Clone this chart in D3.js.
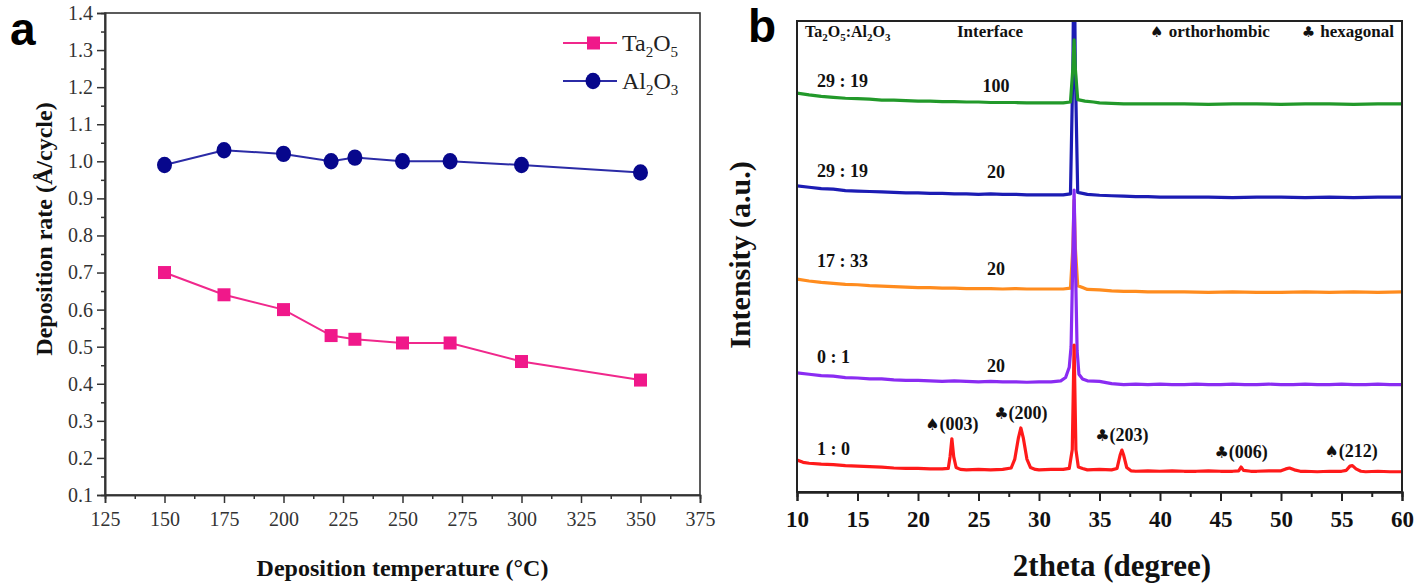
<!DOCTYPE html>
<html><head><meta charset="utf-8">
<script src="https://cdn.jsdelivr.net/npm/d3@7"></script>
<style>
body{margin:0;background:#fff;}
svg{display:block;font-family:"Liberation Serif","Times New Roman",serif;}
</style></head>
<body><svg id="c" width="1418" height="587"></svg>
<script>
// ---------- Panel a data ----------
const temps = [150,175,200,220,230,250,270,300,350];
const ta2o5 = [0.70,0.64,0.60,0.53,0.52,0.51,0.51,0.46,0.41];
const al2o3 = [0.99,1.03,1.02,1.00,1.01,1.00,1.00,0.99,0.97];
const aXTicks = [125,150,175,200,225,250,275,300,325,350,375];
const aYTicks = [0.1,0.2,0.3,0.4,0.5,0.6,0.7,0.8,0.9,1.0,1.1,1.2,1.3,1.4];

// ---------- Panel b data (2theta, stacked intensity a.u.) ----------
const bXTicks = [10,15,20,25,30,35,40,45,50,55,60];
const trace_1_0 = [[10,6.8],[10.5,6.3],[11,6.1],[12,5.9],[13,5.8],[14,5.6],[15,5.5],[16,5.4],[17,5.3],[18,5.1],[19,5.0],[20,5.0],[21,4.9],[22,4.9],[22.5,5.0],[22.65,7.5],[22.8,11.3],[22.95,7.5],[23.15,5.2],[23.5,4.8],[24,4.7],[25,4.8],[26,4.7],[27,4.8],[27.7,5.1],[28.0,7.0],[28.3,11.5],[28.5,13.6],[28.7,11.5],[29.0,7.0],[29.3,5.2],[29.7,4.8],[30,4.7],[31,4.8],[32,4.8],[32.5,5.0],[32.75,9],[32.9,31.2],[33.05,9],[33.25,5.3],[33.6,5.0],[34,4.7],[35,4.8],[36,4.7],[36.45,5.0],[36.7,7.8],[36.85,8.9],[37.0,7.8],[37.25,5.2],[37.6,4.5],[38,4.4],[39,4.5],[40,4.4],[41,4.5],[42,4.4],[43,4.4],[44,4.5],[45,4.4],[46,4.4],[46.5,4.5],[46.7,5.3],[46.9,4.6],[47.5,4.4],[48,4.4],[49,4.5],[50,4.5],[50.4,4.9],[50.7,5.1],[51.1,4.7],[51.6,4.4],[52,4.4],[53,4.3],[54,4.4],[55,4.4],[55.4,4.6],[55.7,5.5],[55.9,5.6],[56.2,4.9],[56.6,4.4],[57,4.3],[58,4.4],[59,4.3],[60,4.3]];
const trace_0_1 = [[10,25.3],[11,25.0],[12,24.7],[13,24.6],[14,24.3],[15,24.2],[16,24.0],[17,24.0],[18,23.8],[19,23.7],[20,23.7],[21,23.6],[22,23.5],[23,23.6],[24,23.5],[25,23.4],[26,23.5],[27,23.4],[28,23.4],[29,23.3],[30,23.4],[31,23.4],[31.8,23.6],[32.2,24.3],[32.5,26.5],[32.65,30.8],[32.8,50],[32.9,64.1],[33.0,50],[33.15,30],[33.3,25.0],[33.6,24.0],[34,23.6],[35,23.5],[36,23.0],[37,22.8],[38,22.9],[39,22.8],[40,22.9],[41,22.8],[42,22.8],[43,22.9],[44,22.8],[45,22.8],[46,22.9],[47,22.8],[48,22.8],[49,22.9],[50,22.8],[51,22.8],[52,22.9],[53,22.8],[54,22.8],[55,22.9],[56,22.8],[57,22.8],[58,22.9],[59,22.8],[60,22.8]];
const trace_17_33 = [[10,45.2],[11,44.8],[12,44.5],[13,44.3],[14,44.1],[15,44.0],[16,43.8],[17,43.7],[18,43.6],[19,43.5],[20,43.4],[21,43.4],[22,43.3],[23,43.3],[24,43.2],[25,43.2],[26,43.2],[27,43.1],[28,43.2],[29,43.1],[30,43.1],[31,43.1],[32,43.1],[32.6,43.3],[32.8,52],[32.9,62],[33.0,52],[33.2,43.8],[33.6,43.4],[34,43.0],[35,42.9],[36,42.7],[37,42.6],[38,42.6],[39,42.5],[40,42.5],[42,42.5],[44,42.4],[46,42.5],[48,42.4],[50,42.4],[52,42.5],[54,42.4],[56,42.5],[58,42.4],[60,42.5]];
const trace_29_19_20 = [[10,65.0],[11,64.7],[12,64.4],[13,64.3],[14,64.0],[15,63.9],[16,63.8],[17,63.7],[18,63.6],[19,63.5],[20,63.5],[21,63.4],[22,63.4],[23,63.3],[24,63.3],[25,63.2],[26,63.3],[27,63.2],[28,63.2],[29,63.1],[30,63.1],[31,63.1],[32,63.1],[32.6,63.3],[32.8,90],[32.9,120],[33.0,90],[33.2,63.6],[33.6,63.4],[34,63.2],[35,63.0],[36,62.9],[37,62.8],[38,62.7],[39,62.7],[40,62.6],[42,62.6],[44,62.6],[46,62.5],[48,62.6],[50,62.6],[52,62.5],[54,62.6],[56,62.5],[58,62.6],[60,62.6]];
const trace_29_19_100 = [[10,84.7],[11,84.3],[12,84.0],[13,83.8],[14,83.6],[15,83.5],[16,83.4],[17,83.2],[18,83.2],[19,83.1],[20,83.0],[21,83.0],[22,82.9],[23,82.9],[24,82.8],[25,82.8],[26,82.7],[27,82.7],[28,82.7],[29,82.6],[30,82.6],[31,82.6],[32,82.6],[32.6,82.8],[32.8,90],[32.9,96],[33.0,90],[33.2,83.3],[33.8,83.0],[34.5,82.8],[35,82.6],[36,82.5],[37,82.4],[38,82.4],[39,82.4],[40,82.4],[42,82.4],[44,82.3],[46,82.4],[48,82.4],[50,82.3],[52,82.4],[54,82.4],[56,82.3],[58,82.4],[60,82.4]];

const bTraces = [
  {name:"29:19 / 20", data:trace_29_19_20, color:"#1c1cb4", ratio:"29 : 19", iface:"20", ry:177, iy:178},
  {name:"29:19 / 100", data:trace_29_19_100, color:"#22992a", ratio:"29 : 19", iface:"100", ry:87, iy:92},
  {name:"17:33 / 20", data:trace_17_33, color:"#ff8c1e", ratio:"17 : 33", iface:"20", ry:267, iy:275},
  {name:"0:1 / 20", data:trace_0_1, color:"#8a2cf2", ratio:"0 : 1", iface:"20", ry:363, iy:372},
  {name:"1:0", data:trace_1_0, color:"#ff1a1a", ratio:"1 : 0", iface:null, ry:455, iy:0}
];
const peakLabels = [
  {sym:"\u2660", hkl:"(003)", x:22.8, y:11.3},
  {sym:"\u2663", hkl:"(200)", x:28.5, y:13.6},
  {sym:"\u2663", hkl:"(203)", x:36.85, y:8.9},
  {sym:"\u2663", hkl:"(006)", x:46.7, y:5.3},
  {sym:"\u2660", hkl:"(212)", x:55.8, y:5.6}
];

const svg = d3.select("#c");
const axisCol = "#333";

// ================= Panel a =================
const A = {l:105, r:700, t:13, b:495};
const ax = d3.scaleLinear().domain([125,375]).range([A.l,A.r]);
const ay = d3.scaleLinear().domain([0.1,1.4]).range([A.b,A.t]);
const ga = svg.append("g");

ga.append("rect").attr("x",A.l).attr("y",A.t).attr("width",A.r-A.l).attr("height",A.b-A.t)
  .attr("fill","none").attr("stroke",axisCol).attr("stroke-width",1.6);

const axA = ga.append("g").attr("transform",`translate(0,${A.b})`)
  .call(d3.axisBottom(ax).tickValues(aXTicks).tickSize(8).tickPadding(9).tickFormat(d3.format("d")));
const axAm = ga.append("g").attr("transform",`translate(0,${A.b})`)
  .call(d3.axisBottom(ax).tickValues(d3.range(137.5,375,25)).tickSize(4).tickFormat(""));
const ayA = ga.append("g").attr("transform",`translate(${A.l},0)`)
  .call(d3.axisLeft(ay).tickValues(aYTicks).tickSize(8).tickPadding(4).tickFormat(d3.format(".1f")));
const ayAm = ga.append("g").attr("transform",`translate(${A.l},0)`)
  .call(d3.axisLeft(ay).tickValues(d3.range(0.15,1.4,0.1)).tickSize(4).tickFormat(""));
[axA,axAm,ayA,ayAm].forEach(g=>{
  g.select(".domain").attr("stroke",axisCol).attr("stroke-width",1.6);
  g.selectAll(".tick line").attr("stroke",axisCol).attr("stroke-width",1.5);
  g.selectAll(".tick text").attr("fill","#333").style("font-size","20px").style("font-family","Liberation Serif");
});

const lineA = d3.line().x(d=>ax(d[0])).y(d=>ay(d[1]));
const taPts = temps.map((t,i)=>[t,ta2o5[i]]);
const alPts = temps.map((t,i)=>[t,al2o3[i]]);
ga.append("path").attr("d",lineA(alPts)).attr("fill","none").attr("stroke","#2b2ba6").attr("stroke-width",2);
ga.append("path").attr("d",lineA(taPts)).attr("fill","none").attr("stroke","#f0288c").attr("stroke-width",2);
ga.selectAll(".al").data(alPts).join("ellipse").attr("cx",d=>ax(d[0])).attr("cy",d=>ay(d[1]))
  .attr("rx",7.5).attr("ry",8.2).attr("fill","#07078c");
ga.selectAll(".ta").data(taPts).join("rect").attr("x",d=>ax(d[0])-6.5).attr("y",d=>ay(d[1])-6.5)
  .attr("width",13).attr("height",13).attr("fill","#f0188a");

function chem(sel, parts){
  parts.forEach(p=>{
    const ts = sel.append("tspan").text(p[0]);
    if(p[1]) ts.attr("dy",p[1]);
    if(p[1]>0) ts.style("font-size","15px");
  });
}
const lg = ga.append("g");
lg.append("line").attr("x1",563).attr("x2",617).attr("y1",43).attr("y2",43).attr("stroke","#f0288c").attr("stroke-width",2);
lg.append("rect").attr("x",587).attr("y",36.5).attr("width",13).attr("height",13).attr("fill","#f0188a");
let t1 = lg.append("text").attr("x",622).attr("y",51).style("font-size","24px").attr("fill","#222");
chem(t1,[["Ta"],["2",6],["O",-6],["5",6]]);
lg.append("line").attr("x1",563).attr("x2",617).attr("y1",81).attr("y2",81).attr("stroke","#2b2ba6").attr("stroke-width",2);
lg.append("ellipse").attr("cx",593).attr("cy",81).attr("rx",7.5).attr("ry",8.2).attr("fill","#07078c");
let t2 = lg.append("text").attr("x",622).attr("y",89).style("font-size","24px").attr("fill","#222");
chem(t2,[["Al"],["2",6],["O",-6],["3",6]]);

ga.append("text").attr("x",(A.l+A.r)/2).attr("y",576).attr("text-anchor","middle")
  .style("font-size","24px").style("font-weight","bold").attr("fill","#111").text("Deposition temperature (\u00B0C)");
ga.append("text").attr("transform",`translate(52,${(A.t+A.b)/2-25}) rotate(-90)`).attr("text-anchor","middle")
  .style("font-size","24px").style("font-weight","bold").attr("fill","#111").text("Deposition rate (\u00C5/cycle)");
ga.append("text").attr("x",10).attr("y",45).style("font-family","Liberation Sans, Arial, sans-serif")
  .style("font-size","46px").style("font-weight","bold").attr("fill","#000").text("a");

// ================= Panel b =================
const B = {l:797, r:1402, t:21, b:492};
const bx = d3.scaleLinear().domain([10,60]).range([B.l,B.r]);
const by = d3.scaleLinear().domain([0,100]).range([B.b,B.t]);
const gb = svg.append("g");
svg.append("defs").append("clipPath").attr("id","clipB").append("rect")
  .attr("x",B.l).attr("y",B.t).attr("width",B.r-B.l).attr("height",B.b-B.t);

const lineB = d3.line().x(d=>bx(d[0])).y(d=>by(d[1]));
const gTr = gb.append("g").attr("clip-path","url(#clipB)");
bTraces.forEach(tr=>{
  gTr.append("path").attr("d",lineB(tr.data)).attr("fill","none").attr("stroke",tr.color)
    .attr("stroke-width",3.2).attr("stroke-linejoin","round");
});

gb.append("rect").attr("x",B.l).attr("y",B.t).attr("width",B.r-B.l).attr("height",B.b-B.t)
  .attr("fill","none").attr("stroke","#222").attr("stroke-width",2);

const bxA = gb.append("g").attr("transform",`translate(0,${B.b})`)
  .call(d3.axisBottom(bx).tickValues(bXTicks).tickSize(9).tickPadding(10).tickFormat(d3.format("d")));
const bxAm = gb.append("g").attr("transform",`translate(0,${B.b})`)
  .call(d3.axisBottom(bx).tickValues(d3.range(12.5,60,5)).tickSize(5).tickFormat(""));
[bxA,bxAm].forEach(g=>{
  g.select(".domain").attr("stroke","#222").attr("stroke-width",2);
  g.selectAll(".tick line").attr("stroke","#222").attr("stroke-width",2);
  g.selectAll(".tick text").attr("fill","#111").style("font-size","23px").style("font-weight","bold").style("font-family","Liberation Serif");
});

bTraces.forEach(tr=>{
  gb.append("text").attr("x",817).attr("y",tr.ry).style("font-size","18px").style("font-weight","bold")
    .attr("fill","#111").text(tr.ratio);
  if(tr.iface) gb.append("text").attr("x",996).attr("y",tr.iy).attr("text-anchor","middle")
    .style("font-size","18px").style("font-weight","bold").attr("fill","#111").text(tr.iface);
});
peakLabels.forEach(p=>{
  const t = gb.append("text").attr("x",bx(p.x)).attr("y",by(p.y)-9).attr("text-anchor","middle")
    .style("font-size","18px").style("font-weight","bold").attr("fill","#111");
  t.append("tspan").style("font-family","DejaVu Sans").style("font-size","16px").text(p.sym);
  t.append("tspan").text(p.hkl);
});

let h1 = gb.append("text").attr("x",805).attr("y",37).style("font-size","16px").style("font-weight","bold").attr("fill","#111");
[["Ta"],["2",4],["O",-4],["5",4],[":Al",-4],["2",4],["O",-4],["3",4]].forEach(p=>{
  const ts=h1.append("tspan").text(p[0]); if(p[1]) ts.attr("dy",p[1]);
  if(p[1]>0) ts.style("font-size","11px");
});
gb.append("text").attr("x",957).attr("y",37).style("font-size","17px").style("font-weight","bold").attr("fill","#111").text("Interface");
let h2 = gb.append("text").attr("x",1150).attr("y",37).style("font-size","17px").style("font-weight","bold").attr("fill","#111");
h2.append("tspan").style("font-family","DejaVu Sans").style("font-size","15px").text("\u2660 ");
h2.append("tspan").text("orthorhombic");
let h3 = gb.append("text").attr("x",1394).attr("y",37).attr("text-anchor","end").style("font-size","17px").style("font-weight","bold").attr("fill","#111");
h3.append("tspan").style("font-family","DejaVu Sans").style("font-size","15px").text("\u2663 ");
h3.append("tspan").text("hexagonal");

gb.append("text").attr("x",1112).attr("y",576).attr("text-anchor","middle")
  .style("font-size","31px").style("font-weight","bold").attr("fill","#111").text("2theta (degree)");
gb.append("text").attr("transform",`translate(750,255) rotate(-90)`).attr("text-anchor","middle")
  .style("font-size","30px").style("font-weight","bold").attr("fill","#111").text("Intensity (a.u.)");
gb.append("text").attr("x",748).attr("y",42).style("font-family","Liberation Sans, Arial, sans-serif")
  .style("font-size","46px").style("font-weight","bold").attr("fill","#000").text("b");
</script></body></html>
